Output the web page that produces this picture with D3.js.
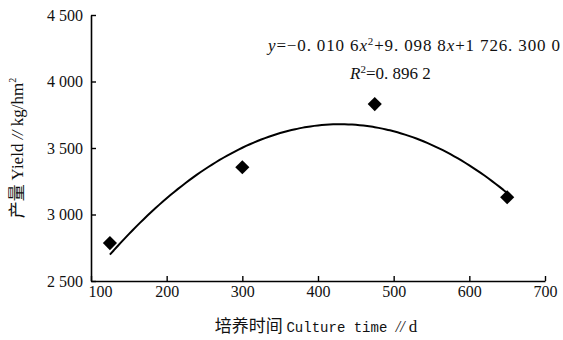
<!DOCTYPE html>
<html>
<head>
<meta charset="utf-8">
<script src="https://cdn.jsdelivr.net/npm/d3@7"></script>
<style>
  body { margin: 0; background: #fff; }
  svg { display: block; }
</style>
</head>
<body>
<svg class="chart"></svg>
<script>
var width = 563,
    height = 340

// data
var days = [125, 300, 475, 650]
var yields = [2785, 3355, 3830, 3130]
var xTicks = [100, 200, 300, 400, 500, 600, 700]
var yTicks = [2500, 3000, 3500, 4000, 4500]
// fitted quadratic shown in the chart
var coef = [-0.0106, 9.0988, 1726.3]

var svg = d3.select(".chart")
    .attr("width", width)
    .attr("height", height)

var x = d3.scaleLinear().domain([100, 700]).range([91, 545])
var y = d3.scaleLinear().domain([2500, 4500]).range([281, 15])

var fmt = d => d3.format(",")(d).replace(",", " ")
var serif = "'Liberation Serif', 'DejaVu Serif', serif"

// x axis
var gx = svg.append("g")
    .attr("transform", `translate(0,${y(2500)})`)
    .call(d3.axisBottom(x).tickValues(xTicks).tickSizeInner(-5).tickSizeOuter(0).tickPadding(5).tickFormat(d3.format("d")))
gx.select(".domain").attr("stroke-width", 1.6)
gx.selectAll(".tick line").attr("stroke-width", 1.4)
gx.selectAll("text")
    .attr("font-family", serif)
    .attr("font-size", 16)
    .attr("fill", "#111")
gx.select(".tick:first-of-type text").attr("dx", 9)

// y axis
var gy = svg.append("g")
    .attr("transform", `translate(${x(100)},0)`)
    .call(d3.axisLeft(y).tickValues(yTicks).tickSizeInner(-5).tickSizeOuter(0).tickPadding(8).tickFormat(fmt))
gy.select(".domain").attr("stroke-width", 1.6)
gy.selectAll(".tick line").attr("stroke-width", 1.4)
gy.selectAll("text")
    .attr("font-family", serif)
    .attr("font-size", 16)
    .attr("fill", "#111")

// trend curve
var curveX = d3.range(days[0], days[days.length - 1] + 1, 5)
var line = d3.line()
    .x(d => x(d))
    .y(d => y(coef[0] * d * d + coef[1] * d + coef[2]))
    .curve(d3.curveBasis)
svg.append("path")
    .attr("d", line(curveX))
    .attr("fill", "none")
    .attr("stroke", "#000")
    .attr("stroke-width", 2)

// points
svg.append("g")
    .selectAll("path")
    .data(days)
    .join("path")
    .attr("d", d3.symbol(d3.symbolSquare, 100))
    .attr("transform", (d, i) => `translate(${x(d)},${y(yields[i])}) rotate(45)`)
    .attr("fill", "#000")

// equation
var eq = svg.append("text")
    .attr("x", 268)
    .attr("y", 51)
    .attr("font-family", serif)
    .attr("font-size", 17)
    .attr("fill", "#111")
    .attr("textLength", 292)
eq.append("tspan").attr("font-style", "italic").text("y")
eq.append("tspan").text("=\u22120. 010  6")
eq.append("tspan").attr("font-style", "italic").text("x")
eq.append("tspan").attr("font-size", 11).attr("dy", -6).text("2")
eq.append("tspan").attr("dy", 6).text("+9. 098  8")
eq.append("tspan").attr("font-style", "italic").text("x")
eq.append("tspan").text("+1  726. 300  0")

var r2 = svg.append("text")
    .attr("x", 350)
    .attr("y", 79)
    .attr("font-family", serif)
    .attr("font-size", 17)
    .attr("fill", "#111")
r2.append("tspan").attr("font-style", "italic").text("R")
r2.append("tspan").attr("font-size", 11).attr("dy", -6).text("2")
r2.append("tspan").attr("dy", 6).text("=0. 896  2")

// x title
var xt = svg.append("text")
    .attr("x", 316)
    .attr("y", 332)
    .attr("text-anchor", "middle")
    .attr("fill", "#111")
xt.append("tspan").attr("font-family", "'Noto Sans CJK SC'").attr("font-size", 17).text("培养时间 ")
xt.append("tspan").attr("font-family", "'Liberation Mono', 'DejaVu Sans Mono', monospace").attr("font-size", 14).text("Culture time ")
xt.append("tspan").attr("font-family", serif).attr("font-style", "italic").attr("font-size", 16).text("//")
xt.append("tspan").attr("font-family", serif).attr("font-size", 17).text(" d")

// y title
var yt = svg.append("text")
    .attr("transform", "translate(23,148) rotate(-90)")
    .attr("text-anchor", "middle")
    .attr("fill", "#111")
yt.append("tspan").attr("font-family", "'Noto Sans CJK SC'").attr("font-size", 17).text("产量 ")
yt.append("tspan").attr("font-family", serif).attr("font-size", 17).text("Yield ")
yt.append("tspan").attr("font-family", serif).attr("font-style", "italic").attr("font-size", 16).text("//")
yt.append("tspan").attr("font-family", serif).attr("font-size", 17).text(" kg/hm")
yt.append("tspan").attr("font-family", serif).attr("font-size", 10).attr("dy", -7).text("2")
</script>
</body>
</html>
